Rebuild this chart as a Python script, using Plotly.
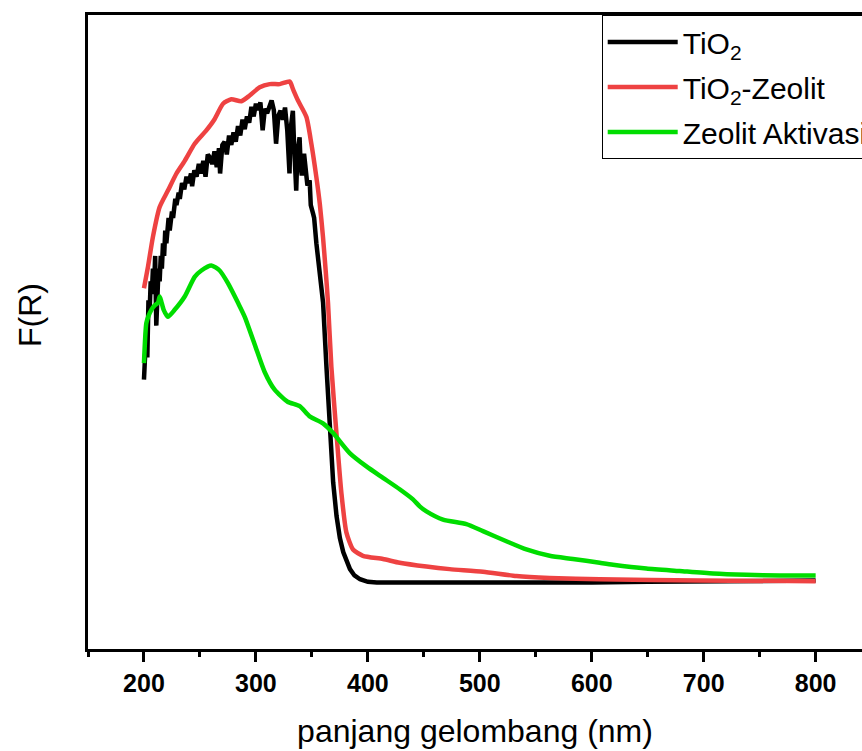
import plotly.graph_objects as go

# ---- data (wavelength in nm, F(R) in arbitrary units) ----
tio2_x = [200, 201, 202, 203, 204, 205, 206, 207, 208, 209, 210, 211, 212, 213, 214, 215, 216,
          217, 218, 219, 220, 222, 223, 225, 226, 228, 229, 231, 232, 234, 236, 238, 240, 242,
          243, 245, 247, 249, 251, 253, 255, 257, 259, 261, 263, 265, 267, 268, 270, 272, 274,
          276, 278, 280, 282, 284, 286, 288, 290, 292, 294, 296, 298, 300, 302, 304, 306, 308,
          310, 312, 314, 316, 318, 320, 322, 324, 326, 328, 330, 331, 333, 334, 336, 337, 339,
          340, 341, 343, 344, 346, 348, 349, 351, 352, 354, 357, 360, 363, 366, 369, 372, 375,
          378, 381, 384, 388, 393, 400, 408, 450, 500, 550, 600, 650, 700, 750, 800]
tio2_y = [0.425, 0.470, 0.500, 0.460, 0.550, 0.530, 0.580, 0.560, 0.600, 0.570, 0.620, 0.510,
          0.550, 0.600, 0.580, 0.620, 0.600, 0.640, 0.620, 0.660, 0.640, 0.680, 0.660, 0.690,
          0.680, 0.710, 0.700, 0.720, 0.710, 0.735, 0.725, 0.745, 0.735, 0.750, 0.730, 0.755,
          0.745, 0.765, 0.750, 0.770, 0.745, 0.780, 0.775, 0.765, 0.785, 0.760, 0.790, 0.750,
          0.795, 0.800, 0.780, 0.810, 0.795, 0.815, 0.800, 0.825, 0.810, 0.835, 0.820, 0.840,
          0.830, 0.855, 0.840, 0.860, 0.850, 0.862, 0.818, 0.852, 0.845, 0.858, 0.865, 0.850,
          0.797, 0.841, 0.849, 0.835, 0.854, 0.818, 0.750, 0.820, 0.849, 0.800, 0.723, 0.780,
          0.807, 0.760, 0.747, 0.781, 0.760, 0.731, 0.739, 0.700, 0.687, 0.680, 0.640, 0.597,
          0.546, 0.445, 0.341, 0.263, 0.210, 0.175, 0.153, 0.138, 0.126, 0.116, 0.110, 0.106,
          0.105, 0.105, 0.105, 0.104, 0.105, 0.106, 0.107, 0.107, 0.108]

zeo_tio2_x = [200, 203.6, 208, 214, 221.4, 229, 236.4, 245.3, 255.7, 263.2, 270.6, 278, 287,
              294.4, 303.4, 312.3, 321.3, 330.2, 333.1, 337.6, 345.1, 349.5, 354, 357, 359.9,
              362.3, 364.4, 367.4, 371.9, 376.3, 380.8, 386.7, 395.6, 413.5, 428.4, 452.3,
              473.1, 502.8, 532.7, 562.4, 607.1, 696.4, 800]
zeo_tio2_y = [0.569, 0.603, 0.650, 0.697, 0.723, 0.750, 0.770, 0.797, 0.818, 0.836, 0.860, 0.867,
              0.864, 0.873, 0.886, 0.891, 0.891, 0.895, 0.883, 0.865, 0.839, 0.797, 0.744, 0.703,
              0.650, 0.597, 0.546, 0.445, 0.341, 0.247, 0.184, 0.157, 0.147, 0.142, 0.136, 0.130,
              0.126, 0.122, 0.115, 0.112, 0.110, 0.108, 0.107]

zeo_x = [200, 202.1, 204, 206.6, 209.6, 212.5, 214, 215.5, 217.6, 221.4, 227.4, 236.4, 245.3,
         251.3, 260.2, 267.6, 275, 284, 290, 299, 307.8, 316.7, 328.3, 339.1, 348, 359.9, 368.8,
         383.8, 398.7, 413.5, 428.4, 440.3, 446.3, 452.3, 467.1, 488, 502.8, 523.7, 541.6,
         562.4, 583.2, 607.1, 619, 648.8, 678.5, 708.3, 738.1, 767.8, 800]
zeo_y = [0.451, 0.514, 0.525, 0.535, 0.542, 0.546, 0.556, 0.548, 0.535, 0.524, 0.535, 0.556,
         0.587, 0.597, 0.605, 0.597, 0.577, 0.546, 0.524, 0.480, 0.437, 0.409, 0.390, 0.383,
         0.367, 0.356, 0.341, 0.309, 0.288, 0.270, 0.252, 0.236, 0.225, 0.217, 0.204, 0.197,
         0.186, 0.170, 0.157, 0.147, 0.142, 0.136, 0.133, 0.127, 0.123, 0.119, 0.117, 0.116,
         0.116]

names = ["TiO<sub>2</sub>", "TiO<sub>2</sub>-Zeolit", "Zeolit Aktivasi"]
colors = ["#000000", "#EE4242", "#00DD00"]
shapes = ["linear", "spline", "spline"]
x_ticks = [200, 300, 400, 500, 600, 700, 800]

FONT = "Liberation Sans, Arial, sans-serif"

fig = go.Figure()
for i, (xs, ys) in enumerate([(tio2_x, tio2_y), (zeo_tio2_x, zeo_tio2_y), (zeo_x, zeo_y)]):
    fig.add_trace(go.Scatter(x=xs, y=ys, mode="lines", name=names[i],
                             legendgroup=f"g{i}",
                             line=dict(color=colors[i], width=4.5, shape=shapes[i],
                                       smoothing=0.6 if shapes[i] == "spline" else None)))

fig.update_layout(
    width=862, height=751,
    margin=dict(l=88, r=0, t=15, b=102, autoexpand=False),
    paper_bgcolor="white", plot_bgcolor="white",
    font=dict(family=FONT, color="black"),
    showlegend=True,
    legend=dict(x=0.6637, y=1, xanchor="left", yanchor="top",
                bordercolor="black", borderwidth=1, bgcolor="white",
                font=dict(family=FONT, size=30, color="black"),
                itemwidth=70, tracegroupgap=3),
    xaxis=dict(range=[150, 841.4], showline=True, linecolor="black", linewidth=3,
               mirror=True, showgrid=False, zeroline=False,
               tickmode="array", tickvals=x_ticks, ticks="outside",
               ticklen=10, tickwidth=2.5, tickcolor="black",
               tickfont=dict(family=FONT, size=25, color="black", weight="bold"),
               minor=dict(ticks="outside", ticklen=5, tickwidth=2.5, tickcolor="black",
                          tick0=150, dtick=50),
               title=dict(text="panjang gelombang (nm)",
                          font=dict(family=FONT, size=32, color="black"), standoff=24)),
    yaxis=dict(range=[0, 1], showline=True, linecolor="black", linewidth=3,
               showgrid=False, zeroline=False, showticklabels=False, ticks=""),
    annotations=[dict(text="F(R)", x=(30 - 88) / 774, y=(649 - 315) / 634,
                      xref="paper", yref="paper", xanchor="center", yanchor="middle",
                      showarrow=False, textangle=-90,
                      font=dict(family=FONT, size=32, color="black"))],
)

fig.write_html("out.html")
